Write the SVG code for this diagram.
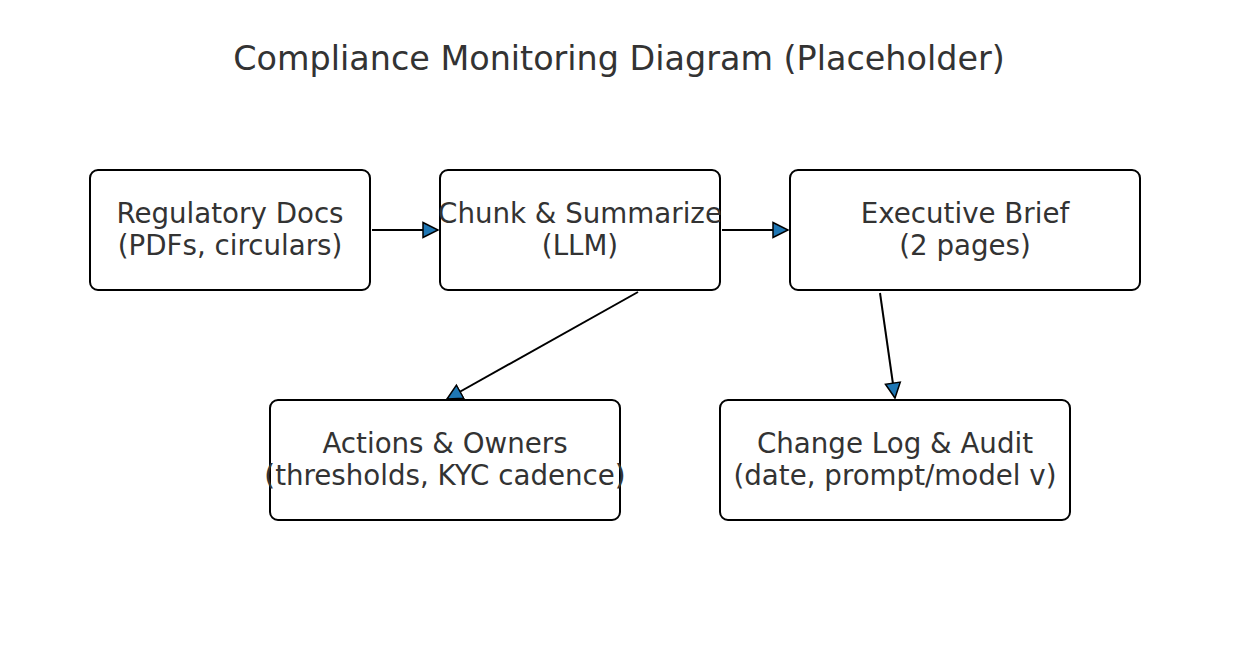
<svg xmlns="http://www.w3.org/2000/svg" width="1239" height="670" viewBox="0 0 1239 670">
<defs>
<marker id="ah" markerWidth="18" markerHeight="18" refX="16" refY="9" orient="auto" markerUnits="userSpaceOnUse">
<path d="M1,1.5 L16,9 L1,16.5 Z" fill="#1f77b4" stroke="#000" stroke-width="1.5" stroke-linejoin="miter"/>
</marker>
</defs>
<style>
.box{fill:#fff;stroke:#000;stroke-width:2}
.t{font-family:"DejaVu Sans",sans-serif;font-size:27.7px;fill:#333;text-anchor:middle}
.title{font-family:"DejaVu Sans",sans-serif;font-size:33.4px;fill:#333;text-anchor:middle}
.c{stroke:#000;stroke-width:2;fill:none}
</style>
<rect width="1239" height="670" fill="#fff"/>
<text class="title" x="619" y="70">Compliance Monitoring Diagram (Placeholder)</text>
<g id="regdocs">
<rect class="box" x="90" y="170" width="280" height="120" rx="8"/>
<text class="t" x="230" y="223">Regulatory Docs</text>
<text class="t" x="230" y="255">(PDFs, circulars)</text>
</g>
<g id="chunk">
<rect class="box" x="440" y="170" width="280" height="120" rx="8"/>
<text class="t" x="580" y="223">Chunk &amp; Summarize</text>
<text class="t" x="580" y="255">(LLM)</text>
</g>
<g id="brief">
<rect class="box" x="790" y="170" width="350" height="120" rx="8"/>
<text class="t" x="965" y="223">Executive Brief</text>
<text class="t" x="965" y="255">(2 pages)</text>
</g>
<g id="actions">
<rect class="box" x="270" y="400" width="350" height="120" rx="8"/>
<text class="t" x="445" y="453">Actions &amp; Owners</text>
<text class="t" x="445" y="485">(thresholds, KYC cadence)</text>
</g>
<g id="changelog">
<rect class="box" x="720" y="400" width="350" height="120" rx="8"/>
<text class="t" x="895" y="453">Change Log &amp; Audit</text>
<text class="t" x="895" y="485">(date, prompt/model v)</text>
</g>
<g id="connectors">
<line class="c" x1="372" y1="230" x2="438" y2="230" marker-end="url(#ah)"/>
<line class="c" x1="722" y1="230" x2="788" y2="230" marker-end="url(#ah)"/>
<line class="c" x1="638" y1="292" x2="447" y2="399" marker-end="url(#ah)"/>
<line class="c" x1="880" y1="293" x2="895" y2="398" marker-end="url(#ah)"/>
</g>
</svg>
